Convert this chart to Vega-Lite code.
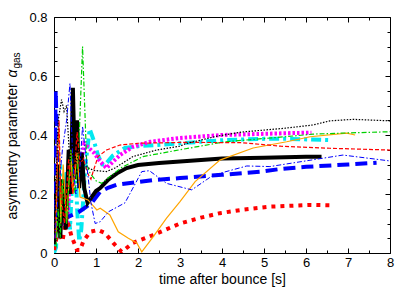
{
  "$schema": "https://vega.github.io/schema/vega-lite/v6.json",
  "width": 336,
  "height": 236,
  "autosize": "none",
  "padding": {"left": 54, "top": 17, "right": 25, "bottom": 38},
  "background": "white",
  "config": {
    "view": {"stroke": "black", "strokeWidth": 1},
    "axis": {
      "labelFont": "Liberation Sans",
      "titleFont": "Liberation Sans",
      "labelColor": "black",
      "titleColor": "black",
      "tickColor": "black",
      "tickWidth": 1,
      "domain": false,
      "grid": false,
      "labelFontSize": 13,
      "titleFontSize": 14,
      "titleFontWeight": "normal",
      "labelFlush": false,
      "labelOverlap": false
    }
  },
  "datasets": {
    "cyan": [
      {"t": 0.0, "v": 0.0}, {"t": 0.05, "v": 0.02}, {"t": 0.1, "v": 0.22}, {"t": 0.15, "v": 0.3}, {"t": 0.2, "v": 0.1},
      {"t": 0.3, "v": 0.28}, {"t": 0.38, "v": 0.08}, {"t": 0.45, "v": 0.3}, {"t": 0.5, "v": 0.35}, {"t": 0.55, "v": 0.15},
      {"t": 0.6, "v": 0.04}, {"t": 0.65, "v": 0.08}, {"t": 0.75, "v": 0.3}, {"t": 0.85, "v": 0.42}, {"t": 0.95, "v": 0.38},
      {"t": 1.05, "v": 0.33}, {"t": 1.15, "v": 0.3}, {"t": 1.21, "v": 0.298}, {"t": 1.4, "v": 0.33}, {"t": 1.69, "v": 0.356},
      {"t": 2.0, "v": 0.362}, {"t": 2.44, "v": 0.366}, {"t": 3.0, "v": 0.372}, {"t": 4.07, "v": 0.383}, {"t": 5.0, "v": 0.387},
      {"t": 5.5, "v": 0.387}, {"t": 6.57, "v": 0.383}
    ],
    "magenta": [
      {"t": 0.05, "v": 0.08}, {"t": 0.1, "v": 0.12}, {"t": 0.15, "v": 0.22}, {"t": 0.22, "v": 0.1}, {"t": 0.3, "v": 0.08},
      {"t": 0.38, "v": 0.25}, {"t": 0.45, "v": 0.4}, {"t": 0.5, "v": 0.405}, {"t": 0.55, "v": 0.3}, {"t": 0.6, "v": 0.25},
      {"t": 0.65, "v": 0.3}, {"t": 0.72, "v": 0.37}, {"t": 0.8, "v": 0.36}, {"t": 0.95, "v": 0.34}, {"t": 1.1, "v": 0.31},
      {"t": 1.25, "v": 0.288}, {"t": 1.57, "v": 0.332}, {"t": 1.88, "v": 0.36}, {"t": 2.29, "v": 0.377}, {"t": 3.0, "v": 0.39},
      {"t": 4.0, "v": 0.4}, {"t": 5.0, "v": 0.404}, {"t": 5.5, "v": 0.406}, {"t": 6.13, "v": 0.408}
    ],
    "bluethick": [
      {"t": 0.0, "v": 0.08}, {"t": 0.04, "v": 0.55}, {"t": 0.08, "v": 0.35}, {"t": 0.12, "v": 0.12}, {"t": 0.2, "v": 0.11},
      {"t": 0.3, "v": 0.12}, {"t": 0.45, "v": 0.13}, {"t": 0.6, "v": 0.14}, {"t": 0.75, "v": 0.155}, {"t": 0.9, "v": 0.17},
      {"t": 1.1, "v": 0.208}, {"t": 1.3, "v": 0.222}, {"t": 1.5, "v": 0.232}, {"t": 2.36, "v": 0.247}, {"t": 3.0, "v": 0.254},
      {"t": 4.0, "v": 0.265}, {"t": 5.0, "v": 0.277}, {"t": 5.4, "v": 0.285}, {"t": 6.0, "v": 0.292}, {"t": 7.0, "v": 0.3},
      {"t": 7.68, "v": 0.306}
    ],
    "reddot": [
      {"t": 0.0, "v": 0.01}, {"t": 0.1, "v": 0.08}, {"t": 0.2, "v": 0.04}, {"t": 0.3, "v": 0.12}, {"t": 0.42, "v": 0.055},
      {"t": 0.55, "v": 0.01}, {"t": 0.62, "v": 0.01}, {"t": 0.7, "v": 0.04}, {"t": 0.86, "v": 0.072}, {"t": 1.05, "v": 0.078},
      {"t": 1.21, "v": 0.068}, {"t": 1.41, "v": 0.034}, {"t": 1.61, "v": 0.004}, {"t": 1.88, "v": 0.034}, {"t": 2.36, "v": 0.061},
      {"t": 3.0, "v": 0.1}, {"t": 3.5, "v": 0.12}, {"t": 3.95, "v": 0.135}, {"t": 4.5, "v": 0.147}, {"t": 5.14, "v": 0.157},
      {"t": 6.1, "v": 0.163}, {"t": 6.57, "v": 0.162}
    ],
    "blackthick": [
      {"t": 0.0, "v": 0.03}, {"t": 0.05, "v": 0.08}, {"t": 0.1, "v": 0.3}, {"t": 0.15, "v": 0.05}, {"t": 0.2, "v": 0.25},
      {"t": 0.28, "v": 0.08}, {"t": 0.35, "v": 0.35}, {"t": 0.4, "v": 0.2}, {"t": 0.45, "v": 0.56}, {"t": 0.5, "v": 0.25},
      {"t": 0.55, "v": 0.45}, {"t": 0.6, "v": 0.22}, {"t": 0.66, "v": 0.34}, {"t": 0.72, "v": 0.22}, {"t": 0.8, "v": 0.17},
      {"t": 0.9, "v": 0.19}, {"t": 1.0, "v": 0.21}, {"t": 1.1, "v": 0.22}, {"t": 1.3, "v": 0.25}, {"t": 1.5, "v": 0.27},
      {"t": 1.73, "v": 0.288}, {"t": 2.0, "v": 0.298}, {"t": 2.5, "v": 0.305}, {"t": 3.0, "v": 0.31}, {"t": 3.5, "v": 0.315},
      {"t": 4.0, "v": 0.32}, {"t": 5.0, "v": 0.323}, {"t": 6.0, "v": 0.326}, {"t": 6.37, "v": 0.326}
    ],
    "orange": [
      {"t": 0.05, "v": 0.05}, {"t": 0.08, "v": 0.38}, {"t": 0.12, "v": 0.42}, {"t": 0.16, "v": 0.1}, {"t": 0.22, "v": 0.3},
      {"t": 0.3, "v": 0.1}, {"t": 0.4, "v": 0.35}, {"t": 0.45, "v": 0.2}, {"t": 0.55, "v": 0.34}, {"t": 0.62, "v": 0.19},
      {"t": 0.81, "v": 0.18}, {"t": 1.02, "v": 0.146}, {"t": 1.1, "v": 0.152}, {"t": 1.33, "v": 0.129}, {"t": 1.53, "v": 0.072},
      {"t": 1.77, "v": 0.05}, {"t": 1.97, "v": 0.034}, {"t": 2.09, "v": 0.004}, {"t": 2.36, "v": 0.055}, {"t": 2.68, "v": 0.118},
      {"t": 3.0, "v": 0.174}, {"t": 3.36, "v": 0.242}, {"t": 3.95, "v": 0.315}, {"t": 4.74, "v": 0.356}, {"t": 5.54, "v": 0.377},
      {"t": 6.1, "v": 0.394}, {"t": 6.97, "v": 0.406}, {"t": 7.17, "v": 0.4}
    ],
    "green": [
      {"t": 0.05, "v": 0.02}, {"t": 0.1, "v": 0.15}, {"t": 0.15, "v": 0.05}, {"t": 0.2, "v": 0.25}, {"t": 0.3, "v": 0.1},
      {"t": 0.4, "v": 0.35}, {"t": 0.5, "v": 0.2}, {"t": 0.58, "v": 0.32}, {"t": 0.68, "v": 0.7}, {"t": 0.78, "v": 0.3},
      {"t": 0.86, "v": 0.27}, {"t": 1.0, "v": 0.245}, {"t": 1.13, "v": 0.236}, {"t": 1.33, "v": 0.259}, {"t": 1.61, "v": 0.29},
      {"t": 2.12, "v": 0.327}, {"t": 3.0, "v": 0.35}, {"t": 4.07, "v": 0.377}, {"t": 5.5, "v": 0.394}, {"t": 6.17, "v": 0.403},
      {"t": 7.0, "v": 0.407}, {"t": 8.0, "v": 0.411}
    ],
    "reddash": [
      {"t": 0.02, "v": 0.05}, {"t": 0.08, "v": 0.3}, {"t": 0.12, "v": 0.45}, {"t": 0.16, "v": 0.2}, {"t": 0.25, "v": 0.1},
      {"t": 0.35, "v": 0.32}, {"t": 0.45, "v": 0.2}, {"t": 0.55, "v": 0.41}, {"t": 0.62, "v": 0.3}, {"t": 0.7, "v": 0.32},
      {"t": 0.8, "v": 0.27}, {"t": 0.88, "v": 0.25}, {"t": 0.94, "v": 0.28}, {"t": 1.05, "v": 0.327}, {"t": 1.25, "v": 0.349},
      {"t": 1.57, "v": 0.366}, {"t": 2.0, "v": 0.372}, {"t": 3.12, "v": 0.375}, {"t": 4.47, "v": 0.374}, {"t": 5.4, "v": 0.362},
      {"t": 6.57, "v": 0.355}, {"t": 8.0, "v": 0.349}
    ],
    "blackdot": [
      {"t": 0.0, "v": 0.05}, {"t": 0.05, "v": 0.25}, {"t": 0.1, "v": 0.45}, {"t": 0.18, "v": 0.52}, {"t": 0.24, "v": 0.48},
      {"t": 0.3, "v": 0.5}, {"t": 0.38, "v": 0.3}, {"t": 0.45, "v": 0.42}, {"t": 0.52, "v": 0.3}, {"t": 0.6, "v": 0.35},
      {"t": 0.7, "v": 0.3}, {"t": 0.8, "v": 0.29}, {"t": 0.94, "v": 0.28}, {"t": 1.25, "v": 0.276}, {"t": 1.45, "v": 0.288},
      {"t": 1.88, "v": 0.327}, {"t": 2.44, "v": 0.349}, {"t": 3.0, "v": 0.362}, {"t": 3.12, "v": 0.37}, {"t": 3.91, "v": 0.397},
      {"t": 4.47, "v": 0.41}, {"t": 5.5, "v": 0.423}, {"t": 6.17, "v": 0.434}, {"t": 6.57, "v": 0.448}, {"t": 7.12, "v": 0.453},
      {"t": 8.0, "v": 0.448}
    ],
    "bluethin": [
      {"t": 0.02, "v": 0.05}, {"t": 0.1, "v": 0.2}, {"t": 0.2, "v": 0.35}, {"t": 0.3, "v": 0.45}, {"t": 0.38, "v": 0.575},
      {"t": 0.45, "v": 0.3}, {"t": 0.52, "v": 0.2}, {"t": 0.6, "v": 0.25}, {"t": 0.68, "v": 0.43}, {"t": 0.78, "v": 0.3},
      {"t": 0.88, "v": 0.17}, {"t": 0.98, "v": 0.1}, {"t": 1.1, "v": 0.106}, {"t": 1.3, "v": 0.14}, {"t": 1.69, "v": 0.17},
      {"t": 2.09, "v": 0.276}, {"t": 2.27, "v": 0.279}, {"t": 2.68, "v": 0.236}, {"t": 3.28, "v": 0.214}, {"t": 3.79, "v": 0.264},
      {"t": 4.59, "v": 0.295}, {"t": 5.14, "v": 0.293}, {"t": 5.9, "v": 0.31}, {"t": 6.88, "v": 0.332}, {"t": 8.0, "v": 0.312}
    ]
  },
  "layer": [
    {
      "data": {"name": "cyan"},
      "mark": {"type": "line", "color": "#00e8f0", "strokeWidth": 4, "strokeDash": [10, 4, 3, 4], "clip": true},
      "encoding": {
        "x": {"field": "t", "type": "quantitative", "scale": {"domain": [0, 8], "nice": false, "zero": false},
          "axis": {"orient": "bottom", "values": [0, 1, 2, 3, 4, 5, 6, 7, 8], "format": "~g", "ticks": false, "labelPadding": 3,
            "title": "time after bounce [s]", "titleX": 168, "titleY": 30, "titleAlign": "center", "titleBaseline": "alphabetic", "titleAngle": 0}},
        "y": {"field": "v", "type": "quantitative", "scale": {"domain": [0, 0.8], "nice": false, "zero": false},
          "axis": {"orient": "left", "values": [0, 0.2, 0.4, 0.6, 0.8], "format": "~g", "ticks": false, "labelPadding": 7,
            "title": "asymmetry parameter", "titleX": -37.5, "titleY": 202, "titleAngle": -90, "titleAlign": "left", "titleBaseline": "alphabetic"}}
      }
    },
    {
      "data": {"name": "magenta"},
      "mark": {"type": "line", "color": "#ff00ff", "strokeWidth": 4, "strokeDash": [2.5, 2], "clip": true},
      "encoding": {
        "x": {"field": "t", "type": "quantitative", "scale": {"domain": [0, 8], "nice": false, "zero": false},
          "axis": {"orient": "bottom", "values": [0, 1, 2, 3, 4, 5, 6, 7, 8], "labels": false, "tickSize": -5, "title": null}},
        "y": {"field": "v", "type": "quantitative", "scale": {"domain": [0, 0.8], "nice": false, "zero": false},
          "axis": {"orient": "left", "values": [0, 0.2, 0.4, 0.6, 0.8], "labels": false, "tickSize": -5, "title": null}}
      }
    },
    {
      "data": {"name": "bluethick"},
      "mark": {"type": "line", "color": "#0000ff", "strokeWidth": 4, "strokeDash": [12, 6], "clip": true},
      "encoding": {
        "x": {"field": "t", "type": "quantitative", "scale": {"domain": [0, 8], "nice": false, "zero": false},
          "axis": {"orient": "bottom", "values": [0.5, 1.5, 2.5, 3.5, 4.5, 5.5, 6.5, 7.5], "labels": false, "tickSize": -3, "title": null}},
        "y": {"field": "v", "type": "quantitative", "scale": {"domain": [0, 0.8], "nice": false, "zero": false},
          "axis": {"orient": "left", "values": [0.05, 0.1, 0.15, 0.25, 0.3, 0.35, 0.45, 0.5, 0.55, 0.65, 0.7, 0.75], "labels": false, "tickSize": -3, "title": null}}
      }
    },
    {
      "data": {"name": "reddot"},
      "mark": {"type": "line", "color": "#ff0000", "strokeWidth": 4, "strokeDash": [4, 5], "clip": true},
      "encoding": {
        "x": {"field": "t", "type": "quantitative", "scale": {"domain": [0, 8], "nice": false, "zero": false},
          "axis": {"orient": "top", "values": [0, 1, 2, 3, 4, 5, 6, 7, 8], "labels": false, "tickSize": -5, "title": null}},
        "y": {"field": "v", "type": "quantitative", "scale": {"domain": [0, 0.8], "nice": false, "zero": false},
          "axis": {"orient": "right", "values": [0, 0.2, 0.4, 0.6, 0.8], "labels": false, "tickSize": -5, "title": null}}
      }
    },
    {
      "data": {"name": "blackthick"},
      "mark": {"type": "line", "color": "#000000", "strokeWidth": 4, "clip": true},
      "encoding": {
        "x": {"field": "t", "type": "quantitative", "scale": {"domain": [0, 8], "nice": false, "zero": false},
          "axis": {"orient": "top", "values": [0.5, 1.5, 2.5, 3.5, 4.5, 5.5, 6.5, 7.5], "labels": false, "tickSize": -3, "title": null}},
        "y": {"field": "v", "type": "quantitative", "scale": {"domain": [0, 0.8], "nice": false, "zero": false},
          "axis": {"orient": "right", "values": [0.05, 0.1, 0.15, 0.25, 0.3, 0.35, 0.45, 0.5, 0.55, 0.65, 0.7, 0.75], "labels": false, "tickSize": -3, "title": null}}
      }
    },
    {
      "data": {"name": "orange"},
      "mark": {"type": "line", "color": "#ffa500", "strokeWidth": 1.2, "clip": true},
      "encoding": {
        "x": {"field": "t", "type": "quantitative", "scale": {"domain": [0, 8], "nice": false, "zero": false}, "axis": null},
        "y": {"field": "v", "type": "quantitative", "scale": {"domain": [0, 0.8], "nice": false, "zero": false},
          "axis": {"orient": "left", "labels": false, "ticks": false, "title": "α", "titleFontStyle": "italic",
            "titleX": -37.5, "titleY": 60, "titleAngle": -90, "titleAlign": "left", "titleBaseline": "alphabetic"}}
      }
    },
    {
      "data": {"name": "green"},
      "mark": {"type": "line", "color": "#00d000", "strokeWidth": 1.2, "strokeDash": [5, 2, 1.5, 2], "clip": true},
      "encoding": {
        "x": {"field": "t", "type": "quantitative", "scale": {"domain": [0, 8], "nice": false, "zero": false}, "axis": null},
        "y": {"field": "v", "type": "quantitative", "scale": {"domain": [0, 0.8], "nice": false, "zero": false},
          "axis": {"orient": "left", "labels": false, "ticks": false, "title": "gas", "titleFontSize": 10,
            "titleX": -35, "titleY": 51, "titleAngle": -90, "titleAlign": "left", "titleBaseline": "alphabetic"}}
      }
    },
    {
      "data": {"name": "reddash"},
      "mark": {"type": "line", "color": "#ff0000", "strokeWidth": 1.2, "strokeDash": [4, 2], "clip": true},
      "encoding": {
        "x": {"field": "t", "type": "quantitative", "scale": {"domain": [0, 8], "nice": false, "zero": false}, "axis": null},
        "y": {"field": "v", "type": "quantitative", "scale": {"domain": [0, 0.8], "nice": false, "zero": false}, "axis": null}
      }
    },
    {
      "data": {"name": "blackdot"},
      "mark": {"type": "line", "color": "#000000", "strokeWidth": 1.2, "strokeDash": [1.5, 1.5], "clip": true},
      "encoding": {
        "x": {"field": "t", "type": "quantitative", "scale": {"domain": [0, 8], "nice": false, "zero": false}, "axis": null},
        "y": {"field": "v", "type": "quantitative", "scale": {"domain": [0, 0.8], "nice": false, "zero": false}, "axis": null}
      }
    },
    {
      "data": {"name": "bluethin"},
      "mark": {"type": "line", "color": "#0000ff", "strokeWidth": 1, "strokeDash": [5, 2, 1.5, 2], "clip": true},
      "encoding": {
        "x": {"field": "t", "type": "quantitative", "scale": {"domain": [0, 8], "nice": false, "zero": false}, "axis": null},
        "y": {"field": "v", "type": "quantitative", "scale": {"domain": [0, 0.8], "nice": false, "zero": false}, "axis": null}
      }
    }
  ],
  "resolve": {"axis": {"x": "independent", "y": "independent"}}
}
